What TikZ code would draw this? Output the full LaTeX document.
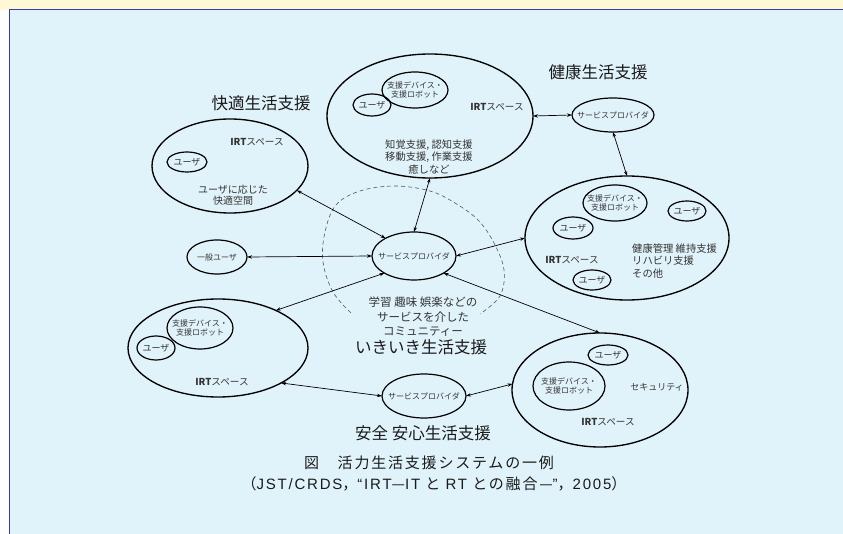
\documentclass[tikz,border=0pt]{standalone}
\usepackage{fontspec}
\setmainfont{Noto Sans CJK JP}
\newfontfamily\capfont[LetterSpace=12]{Noto Sans CJK JP}
\newfontfamily\latinfont[LetterSpace=12]{Liberation Sans}
\usetikzlibrary{shapes.geometric,arrows.meta}
\definecolor{yellowbg}{HTML}{FFF8D4}
\definecolor{bluebg}{HTML}{E1F3FA}
\definecolor{frameblue}{HTML}{3C3CA8}
\definecolor{labelgray}{HTML}{333333}
\definecolor{titleblack}{HTML}{1A1A1A}
\definecolor{dashgray}{HTML}{555555}
\tikzset{
  oval/.style={draw=black, ellipse, line width=1.2pt, inner sep=0pt, outer sep=0pt},
  bigoval/.style={oval, line width=1.35pt},
  lbls/.style={font=\fontsize{8}{9.6}\selectfont, text=labelgray, align=center, inner sep=0pt},
  lblu/.style={font=\fontsize{9}{10}\selectfont, text=labelgray, align=center, inner sep=0pt},
  lblm/.style={font=\fontsize{10.3}{12.2}\selectfont, text=labelgray, align=center, inner sep=0pt},
  irt/.style={font=\fontsize{9.6}{11}\selectfont, text=labelgray, inner sep=0pt},
  comm/.style={font=\fontsize{11.5}{14.5}\selectfont, text=labelgray, align=center, inner sep=0pt},
  titletext/.style={font=\fontsize{16.5}{18}\selectfont, text=titleblack, inner sep=0pt},
  captext/.style={font=\capfont\fontsize{15}{18}\selectfont, text=titleblack, inner sep=0pt},
  biarr/.style={{Stealth[length=5pt,width=3.4pt]}-{Stealth[length=5pt,width=3.4pt]}, line width=0.7pt, draw=black},
  dashline/.style={draw=dashgray, line width=0.6pt, dash pattern=on 4pt off 3pt}
}
\newcommand{\irtlabel}{{\bfseries IRT}スペース}
\begin{document}
\begin{tikzpicture}[x=1pt,y=-1pt]
\useasboundingbox (0,0) rectangle (843,534);
% background frame
\fill[yellowbg] (0,0) rectangle (843,10);
\fill[white] (0,10) rectangle (10,534);
\fill[bluebg] (10,10) rectangle (843,534);
\draw[frameblue, line width=1.5pt] (9.5,534) -- (9.5,9.5) -- (843,9.5);

% dashed community curve
\draw[dashline] plot[smooth, tension=0.6] coordinates {(351,313) (333,292) (323,262) (325,232) (336,205) (360,191) (395,186) (430,191) (455,203) (478,220) (494,243) (504,270) (500,296) (480,314)};

% top ellipse (health IRT space)
\node[bigoval, minimum width=206, minimum height=124] (topE) at (430,116) {};
\node[oval, minimum width=66, minimum height=36, label={[lbls]center:支援デバイス・\\支援ロボット}] (devT) at (415,90) {};
\node[oval, minimum width=38, minimum height=22, label={[lblu]center:ユーザ}] (userT) at (372,105) {};
\node[irt] (irtT) at (497,107) {\irtlabel};
\node[lblm] (txtT) at (429,157) {知覚支援, 認知支援\\移動支援, 作業支援\\癒しなど};
\node[titletext] (titleH) at (598,72) {健康生活支援};

% top-right service provider
\node[oval, minimum width=82, minimum height=34, label={[lbls]center:サービスプロバイダ}] (spTR) at (613,115) {};

% health ellipse right
\node[bigoval, minimum width=204, minimum height=124] (healthE) at (627,238) {};
\node[oval, minimum width=64, minimum height=36, label={[lbls]center:支援デバイス・\\支援ロボット}] (devH) at (615,203) {};
\node[oval, minimum width=38, minimum height=20, label={[lblu]center:ユーザ}] (userH1) at (687,211) {};
\node[oval, minimum width=40, minimum height=22, label={[lblu]center:ユーザ}] (userH2) at (573,228) {};
\node[oval, minimum width=38, minimum height=20, label={[lblu]center:ユーザ}] (userH3) at (592,280) {};
\node[irt] (irtH) at (572,260) {\irtlabel};
\node[lblm, anchor=west, align=left] (txtH) at (632,261) {健康管理 維持支援\\リハビリ支援\\その他};

% comfort ellipse
\node[titletext] (titleK) at (261,103) {快適生活支援};
\node[bigoval, minimum width=156, minimum height=94] (kaiteki) at (230,166) {};
\node[oval, minimum width=40, minimum height=20, label={[lblu]center:ユーザ}] (userK) at (187,162) {};
\node[irt] (irtK) at (257,142) {\irtlabel};
\node[font=\fontsize{10}{11}\selectfont, text=labelgray, align=center, inner sep=0pt] (txtK) at (233,195) {ユーザに応じた\\快適空間};

% centre
\node[oval, minimum width=84, minimum height=48, label={[lbls]center:サービスプロバイダ}] (spC) at (414,256) {};
\node[oval, minimum width=60, minimum height=34, label={[lbls]center:一般ユーザ}] (ippan) at (217,257) {};
\node[comm] (txtC) at (423,317) {学習 趣味 娯楽などの\\サービスを介した\\コミュニティー};
\node[titletext] (titleC) at (421,347) {いきいき生活支援};

% bottom-left ellipse
\node[bigoval, minimum width=180, minimum height=98] (blE) at (218,348) {};
\node[oval, minimum width=66, minimum height=42, label={[lbls]center:支援デバイス・\\支援ロボット}] (devB) at (200,328) {};
\node[oval, minimum width=38, minimum height=24, label={[lblu]center:ユーザ}] (userB) at (156,348) {};
\node[irt] (irtB) at (222,382) {\irtlabel};

% bottom service provider
\node[oval, minimum width=84, minimum height=44, label={[lbls]center:サービスプロバイダ}] (spB) at (424,396) {};
\node[titletext] (titleS) at (423,433) {安全 安心生活支援};

% security ellipse
\node[bigoval, minimum width=176, minimum height=114] (secE) at (600,390) {};
\node[oval, minimum width=40, minimum height=20, label={[lblu]center:ユーザ}] (userS) at (608,355) {};
\node[oval, minimum width=72, minimum height=48, label={[lbls]center:支援デバイス・\\支援ロボット}] (devS) at (569,386) {};
\node[lblu] (secT) at (657,387) {セキュリティ};
\node[irt] (irtS) at (608,422) {\irtlabel};

% connectors
\draw[biarr] (topE.east) -- (spTR.west);
\draw[biarr] (spTR.south) -- (healthE.north);
\draw[biarr] (topE.south) -- (spC.north);
\draw[biarr] (kaiteki.-20) -- (spC.148);
\draw[biarr] (ippan.east) -- (spC.west);
\draw[biarr] (spC.east) -- (healthE.west);
\draw[biarr] (spC.210) -- (blE.33);
\draw[biarr] (spC.-30) -- (secE.north);
\draw[biarr] (blE.-29) -- (spB.west);
\draw[biarr] (spB.east) -- (secE.176);

% caption
\node[captext] (cap1) at (429,463) {図　活力生活支援システムの一例};
\node[captext] (cap2) at (434,484) {（{\latinfont JST/CRDS}，{\latinfont “IRT}—{\latinfont IT} と {\latinfont RT} との融合—{\latinfont ”}，{\latinfont 2005}）};
\end{tikzpicture}
\end{document}
